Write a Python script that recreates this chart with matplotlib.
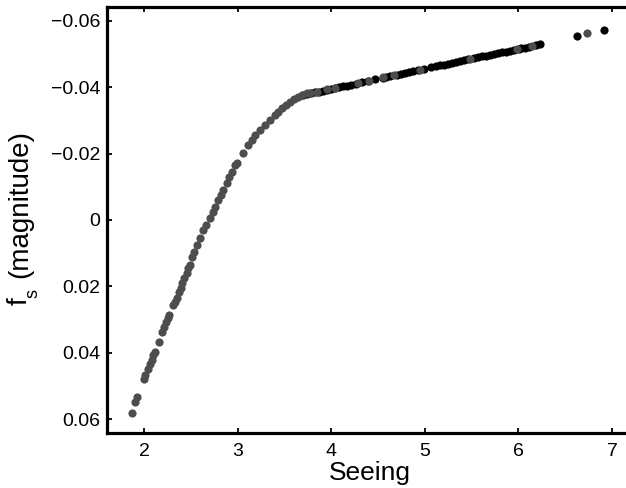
import numpy as np
import matplotlib
matplotlib.use("Agg")
import matplotlib.pyplot as plt

plt.rcParams['font.family'] = ['Liberation Sans', 'DejaVu Sans']

# gray points (curve + a few on the linear part)
gray_x = [1.869, 1.904, 1.922, 2.000, 2.011, 2.046, 2.064, 2.082, 2.099, 2.118,
          2.163, 2.196, 2.217, 2.235, 2.253, 2.270, 2.313, 2.331, 2.349, 2.377,
          2.392, 2.409, 2.431, 2.456, 2.473, 2.491, 2.510, 2.534, 2.563, 2.598,
          2.634, 2.662, 2.705, 2.734, 2.759, 2.794, 2.819, 2.847, 2.884, 2.911,
          2.937, 2.972, 2.990, 3.054, 3.114, 3.151, 3.186, 3.239, 3.293, 3.346,
          3.400, 3.435, 3.474, 3.517, 3.560, 3.603, 3.645, 3.688, 3.738, 3.774,
          3.845, 3.952, 4.041, 4.290, 4.407, 4.550, 4.674, 4.949, 5.483, 5.982,
          6.149, 6.730]
gray_y = [0.0582, 0.0547, 0.0532, 0.0477, 0.0467, 0.0447, 0.0432, 0.0422, 0.0407, 0.0397,
          0.0367, 0.0336, 0.0321, 0.0306, 0.0296, 0.0286, 0.0256, 0.0246, 0.0236, 0.0216,
          0.0206, 0.0191, 0.0176, 0.0161, 0.0145, 0.0136, 0.0111, 0.0095, 0.0075, 0.0055,
          0.0030, 0.0015, -0.0005, -0.0025, -0.0040, -0.0060, -0.0075, -0.0090, -0.0111, -0.0130,
          -0.0145, -0.0166, -0.0171, -0.0201, -0.0226, -0.0241, -0.0256, -0.0271, -0.0286, -0.0301,
          -0.0316, -0.0326, -0.0337, -0.0346, -0.0355, -0.0363, -0.0370, -0.0375, -0.0382, -0.0383,
          -0.0386, -0.0393, -0.0397, -0.0412, -0.0419, -0.0429, -0.0436, -0.0452, -0.0484, -0.0515,
          -0.0525, -0.0562]

# black points (linear part)
black_x = [3.699, 3.741, 3.784, 3.827, 3.870, 3.912, 3.955, 3.998, 4.041, 4.083,
           4.126, 4.169, 4.212, 4.260, 4.329, 4.390, 4.468, 4.550, 4.590, 4.628,
           4.703, 4.746, 4.788, 4.831, 4.874, 4.930, 4.991, 5.066, 5.120, 5.162,
           5.205, 5.248, 5.291, 5.333, 5.376, 5.419, 5.462, 5.526, 5.568, 5.611,
           5.654, 5.697, 5.739, 5.782, 5.825, 5.868, 5.910, 5.953, 6.010, 6.030,
           6.071, 6.113, 6.188, 6.231, 6.626, 6.915]
black_y = [-0.0376, -0.0379, -0.0381, -0.0384, -0.0386, -0.0389, -0.0392, -0.0394, -0.0397, -0.0399,
           -0.0402, -0.0404, -0.0407, -0.0410, -0.0414, -0.0418, -0.0423, -0.0428, -0.0430, -0.0432,
           -0.0437, -0.0439, -0.0442, -0.0445, -0.0447, -0.0451, -0.0454, -0.0459, -0.0462, -0.0465,
           -0.0467, -0.0470, -0.0472, -0.0475, -0.0477, -0.0480, -0.0483, -0.0487, -0.0489, -0.0492,
           -0.0494, -0.0497, -0.0499, -0.0502, -0.0505, -0.0507, -0.0510, -0.0512, -0.0516, -0.0517,
           -0.0519, -0.0522, -0.0526, -0.0529, -0.0554, -0.0572]

xticks = [2, 3, 4, 5, 6, 7]
yticks = [-0.06, -0.04, -0.02, 0, 0.02, 0.04, 0.06]
ytick_labels = ['\u22120.06', '\u22120.04', '\u22120.02', '0', '0.02', '0.04', '0.06']

W, H = 626, 488
fig = plt.figure(figsize=(W / 100, H / 100), dpi=100)
ax = fig.add_axes([0.1709, 0.1127, 0.8387, 0.8730])

ax.plot(black_x, black_y, 'o', color='black', markersize=5.9, markeredgewidth=0)
ax.plot(gray_x, gray_y, 'o', color='#4d4d4d', markersize=5.9, markeredgewidth=0)

ax.set_xlim(1.605, 7.214)
ax.set_ylim(0.0641, -0.0641)
ax.set_xticks(xticks)
ax.set_xticklabels([str(t) for t in xticks])
ax.set_yticks(yticks)
ax.set_yticklabels(ytick_labels)

for s in ax.spines.values():
    s.set_linewidth(2.3)
ax.tick_params(direction='in', length=3.5, width=1.3, top=True, right=True,
               labelsize=14, pad=5)
ax.tick_params(axis='x', pad=7)

ax.set_xlabel('Seeing', fontsize=19, labelpad=1)

# y label built in pieces so the subscript sits low like the original
kw = dict(rotation=90, rotation_mode='anchor', ha='center', va='baseline')
fig.text(27 / W, 1 - 203.5 / H, '(magnitude)', fontsize=20, **kw)
fig.text(27 / W, 1 - 301.5 / H, 'f', fontsize=20, **kw)
fig.text(37 / W, 1 - 293.5 / H, 's', fontsize=13, **kw)

fig.savefig('out.png', dpi=100)
